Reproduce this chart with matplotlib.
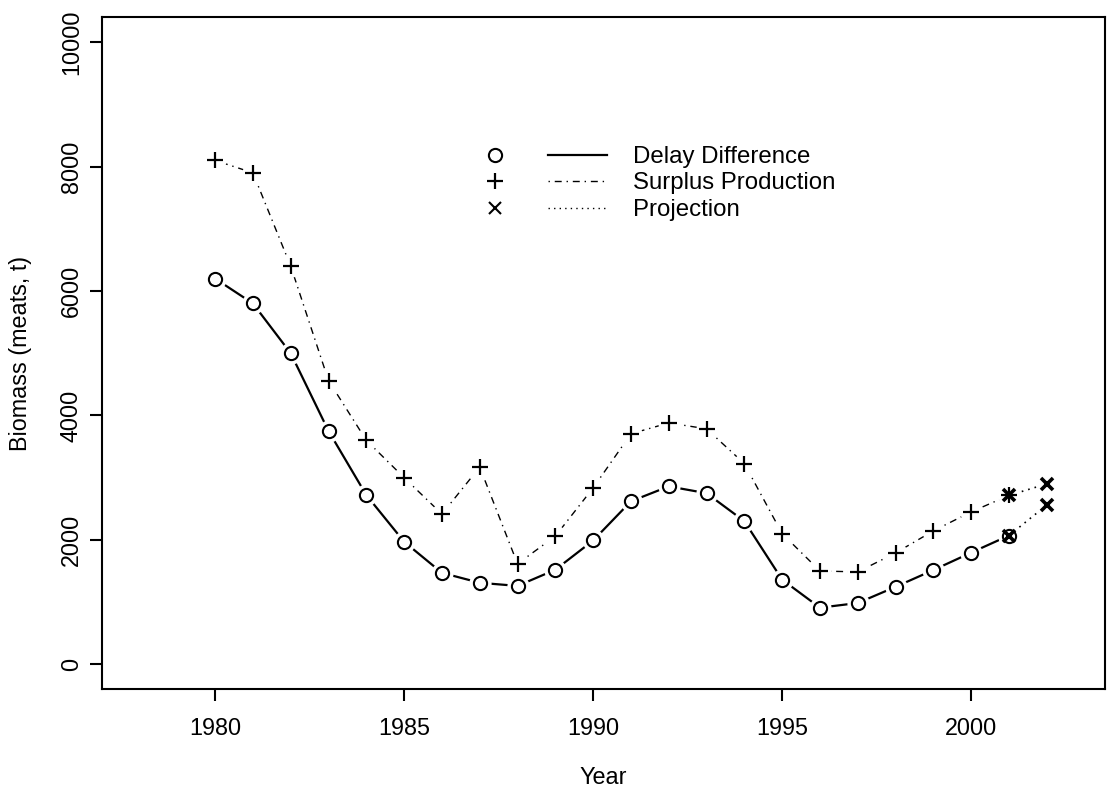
import matplotlib
matplotlib.use("Agg")
import matplotlib.pyplot as plt
from matplotlib.lines import Line2D

plt.rcParams["font.family"] = ["Liberation Sans", "DejaVu Sans"]

# Biomass estimates (meats, t)
years = list(range(1980, 2002))
delay_difference = [6200, 5800, 5000, 3750, 2720, 1970, 1470, 1310, 1260, 1520, 1990,
                    2620, 2860, 2750, 2300, 1360, 910, 985, 1245, 1515, 1795, 2070]
surplus_production = [8100, 7900, 6400, 4560, 3600, 3000, 2415, 3170, 1615, 2060, 2835,
                      3705, 3880, 3785, 3225, 2100, 1500, 1485, 1790, 2145, 2450, 2715]

# One-year projections from the last estimated year
proj_years = [2001, 2002]
proj_delay = [2070, 2560]
proj_surplus = [2715, 2900]

xticks = [1980, 1985, 1990, 1995, 2000]
yticks = [0, 2000, 4000, 6000, 8000, 10000]
legend_labels = ["Delay Difference", "Surplus Production", "Projection"]

W, H = 1115, 794
fig = plt.figure(figsize=(W / 100, H / 100), dpi=100)
ax = fig.add_axes([101.7 / W, (H - 689.3) / H, (1105 - 101.7) / W, (689.3 - 17) / H])

FS = 16.8
FS_LEG = 17.3
LW_AX = 1.5

dashdot = (0, (1, 3.5, 5, 3.5))
dotted = (0, (1, 3))

# lines
ax.plot(years, delay_difference, color="black", lw=1.6, solid_capstyle="butt", zorder=1)
ax.plot(years, surplus_production, color="black", lw=1.0, linestyle=dashdot, zorder=1)
ax.plot(proj_years, proj_delay, color="black", lw=1.2, linestyle=dotted, zorder=1)
ax.plot(proj_years, proj_surplus, color="black", lw=1.2, linestyle=dotted, zorder=1)

# white halos leave a small gap in the lines around each point
halo = dict(linestyle="none", marker="o", markersize=16, markerfacecolor="white",
            markeredgecolor="none", zorder=2)
ax.plot(years, delay_difference, **halo)
ax.plot(years, surplus_production, **halo)
ax.plot(proj_years, proj_delay, **halo)
ax.plot(proj_years, proj_surplus, **halo)

# point symbols
ax.plot(years, delay_difference, linestyle="none", marker="o", markersize=9.5,
        markerfacecolor="white", markeredgecolor="black", markeredgewidth=1.5, zorder=3)
ax.plot(years, surplus_production, linestyle="none", marker="+", markersize=11,
        markeredgecolor="black", markeredgewidth=1.6, zorder=3)
for vals in (proj_delay, proj_surplus):
    ax.plot(proj_years, vals, linestyle="none", marker="x", markersize=9,
            markeredgecolor="black", markeredgewidth=2.6, zorder=4)

ax.set_xlim(1977.0, 2003.54)
ax.set_ylim(-402, 10405)
ax.set_xticks(xticks)
ax.set_yticks(yticks)
ax.set_xticklabels([str(v) for v in xticks], fontsize=FS)
ax.set_yticklabels([str(v) for v in yticks], fontsize=FS, rotation=90, va="center")
ax.tick_params(axis="both", length=8.6, width=LW_AX, direction="out")
ax.tick_params(axis="x", pad=11.5)
ax.tick_params(axis="y", pad=5)
for s in ax.spines.values():
    s.set_linewidth(LW_AX)

fig.text((101.7 + 1105) / 2 / W, 1 - 778 / H, "Year", ha="center", va="center", fontsize=FS)
fig.text(21 / W, 1 - 353 / H, "Biomass (meats, t)", ha="center", va="center",
         rotation=90, fontsize=FS)

# legend: symbol column, line column, text column
def fx(px):
    return px / W

def fy(py):
    return 1 - py / H

rows = [157, 183.5, 210]
sym_specs = [dict(marker="o", markersize=9.5, markerfacecolor="white", markeredgewidth=1.5),
             dict(marker="+", markersize=11, markeredgewidth=1.6),
             dict(marker="x", markersize=8.5, markeredgewidth=1.5)]
line_specs = [dict(lw=1.6, linestyle="-"),
              dict(lw=1.0, linestyle=dashdot),
              dict(lw=1.0, linestyle=dotted)]
for py, lab, sspec, lspec in zip(rows, legend_labels, sym_specs, line_specs):
    fig.add_artist(Line2D([fx(495)], [fy(py - 2.5)], color="black", linestyle="none",
                          markeredgecolor="black", **sspec))
    fig.add_artist(Line2D([fx(548), fx(607)], [fy(py - 2.5), fy(py - 2.5)], color="black", **lspec))
    fig.text(fx(633), fy(py), lab, ha="left", va="center", fontsize=FS_LEG)

fig.savefig("out.png", dpi=100)
